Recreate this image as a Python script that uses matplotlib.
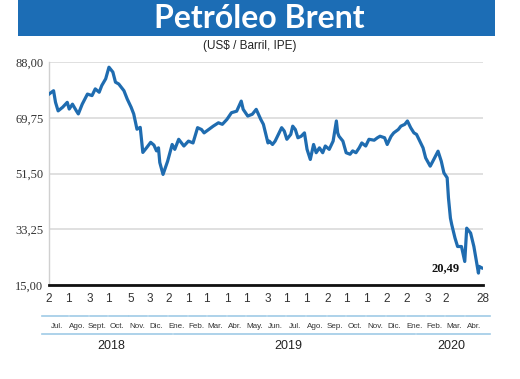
import matplotlib
matplotlib.use("Agg")
import matplotlib.pyplot as plt
import matplotlib.dates as mdates
from matplotlib.patches import Rectangle
import pandas as pd

# ---------------- data ----------------
dates = [
    "2018-07-02", "2018-07-09", "2018-07-12", "2018-07-16", "2018-07-23", "2018-07-30",
    "2018-08-02", "2018-08-07", "2018-08-13", "2018-08-16", "2018-08-22", "2018-08-30",
    "2018-09-06", "2018-09-11", "2018-09-17", "2018-09-21", "2018-09-27", "2018-10-02",
    "2018-10-08", "2018-10-12", "2018-10-17", "2018-10-25", "2018-10-30", "2018-11-05",
    "2018-11-09", "2018-11-14", "2018-11-19", "2018-11-23", "2018-11-29", "2018-12-05",
    "2018-12-10", "2018-12-14", "2018-12-17", "2018-12-19", "2018-12-24", "2018-12-31",
    "2019-01-07", "2019-01-11", "2019-01-17", "2019-01-25", "2019-02-01", "2019-02-08",
    "2019-02-15", "2019-02-21", "2019-02-25", "2019-03-04", "2019-03-11", "2019-03-19",
    "2019-03-25", "2019-04-01", "2019-04-08", "2019-04-16", "2019-04-23", "2019-04-26",
    "2019-05-03", "2019-05-10", "2019-05-16", "2019-05-23", "2019-05-27", "2019-06-03",
    "2019-06-05", "2019-06-10", "2019-06-14", "2019-06-19", "2019-06-24", "2019-06-28",
    "2019-07-02", "2019-07-08", "2019-07-11", "2019-07-15", "2019-07-19", "2019-07-24",
    "2019-07-29", "2019-08-02", "2019-08-07", "2019-08-12", "2019-08-16", "2019-08-21",
    "2019-08-26", "2019-08-30", "2019-09-05", "2019-09-11", "2019-09-16", "2019-09-18",
    "2019-09-20", "2019-09-26", "2019-10-01", "2019-10-07", "2019-10-11", "2019-10-16",
    "2019-10-21", "2019-10-25", "2019-10-31", "2019-11-05", "2019-11-13", "2019-11-18",
    "2019-11-22", "2019-11-29", "2019-12-03", "2019-12-09", "2019-12-13", "2019-12-20",
    "2019-12-24", "2019-12-30", "2020-01-03", "2020-01-08", "2020-01-13", "2020-01-17",
    "2020-01-22", "2020-01-27", "2020-01-31", "2020-02-07", "2020-02-11", "2020-02-19",
    "2020-02-24", "2020-02-28", "2020-03-04", "2020-03-06", "2020-03-09", "2020-03-11",
    "2020-03-16", "2020-03-20", "2020-03-26", "2020-03-31", "2020-04-03", "2020-04-09",
    "2020-04-14", "2020-04-21", "2020-04-22", "2020-04-27", "2020-04-28",
]
prices = [
    77.5, 78.6, 74.8, 72.0, 73.2, 74.8,
    72.6, 74.2, 72.0, 71.0, 74.2, 77.5,
    77.0, 79.2, 78.1, 80.3, 82.5, 86.3,
    84.7, 81.4, 80.8, 78.6, 75.9, 73.2,
    71.0, 66.0, 66.6, 58.4, 60.0, 61.7,
    60.8, 58.9, 59.9, 55.1, 51.2, 55.5,
    61.0, 59.4, 62.7, 60.5, 62.1, 61.5,
    66.5, 65.9, 64.8, 65.9, 67.0, 68.1,
    67.6, 69.2, 71.4, 71.9, 75.2, 72.5,
    70.3, 70.9, 72.5, 69.2, 67.6, 61.5,
    62.1, 61.0, 62.1, 64.3, 66.5, 65.4,
    62.7, 64.3, 67.0, 65.9, 63.2, 63.7,
    64.8, 59.4, 56.1, 61.0, 58.3, 59.9,
    58.3, 60.5, 59.4, 62.1, 68.7, 64.8,
    63.7, 62.1, 58.3, 57.8, 58.9, 58.3,
    59.9, 61.5, 60.5, 62.7, 62.4, 63.2,
    63.7, 63.2, 61.0, 63.7, 64.8, 65.9,
    67.0, 67.6, 68.7, 66.5, 64.8, 64.3,
    62.1, 59.9, 56.6, 53.9, 55.5, 58.8,
    55.5, 51.7, 50.1, 43.5, 36.9, 34.8,
    30.4, 27.6, 27.6, 22.7, 33.6, 32.0,
    27.6, 18.9, 21.1, 20.5, 20.49,
]

tick_dates = [
    "2018-07-02", "2018-08-01", "2018-09-03", "2018-10-01", "2018-11-05", "2018-12-03",
    "2019-01-02", "2019-02-01", "2019-03-01", "2019-04-01", "2019-05-01", "2019-06-03",
    "2019-07-01", "2019-08-01", "2019-09-02", "2019-10-01", "2019-11-01", "2019-12-02",
    "2020-01-02", "2020-02-03", "2020-03-02", "2020-04-28",
]
months = ["Jul.", "Ago.", "Sept.", "Oct.", "Nov.", "Dic.",
          "Ene.", "Feb.", "Mar.", "Abr.", "May.", "Jun.", "Jul.", "Ago.", "Sep.",
          "Oct.", "Nov.", "Dic.", "Ene.", "Feb.", "Mar.", "Abr."]
month_starts = pd.date_range("2018-07-01", "2020-04-01", freq="MS")
years = ["2018", "2019", "2020"]
y_ticks = [15.00, 33.25, 51.50, 69.75, 88.00]

title = "Petróleo Brent"
subtitle = "(US$ / Barril, IPE)"

# ---------------- style ----------------
BLUE_BAR = "#1c6db5"
LINE = "#1f6cb0"
LIGHT = "#9fcbe6"
NARROW = ["Liberation Sans", "DejaVu Sans"]

d = pd.to_datetime(dates)
td = pd.to_datetime(tick_dates)

fig = plt.figure(figsize=(5.2, 3.79), dpi=100)
fig.patch.set_facecolor("white")

# title bar
fig.patches.append(Rectangle((18 / 520, 1 - 36 / 379), (495 - 18) / 520, 36 / 379,
                             transform=fig.transFigure, facecolor=BLUE_BAR,
                             edgecolor="none", zorder=0))
fig.text(259 / 520, 1 - 18 / 379, title, color="white", fontsize=23,
         fontweight="bold", family=["Lato", "DejaVu Sans"], ha="center", va="center")
fig.text(250 / 520, 1 - 46 / 379, subtitle, color="#222222", fontsize=8.5,
         family=NARROW, ha="center", va="center")

ax = fig.add_axes([49 / 520, 1 - 285 / 379, (483 - 49) / 520, (285 - 62) / 379])
ax.plot(d, prices, color=LINE, lw=2.3, solid_joinstyle="round", zorder=3)

x0 = pd.Timestamp("2018-07-02")
x1 = pd.Timestamp("2020-04-28")
ax.set_xlim(x0, x1)
ax.set_ylim(15, 88)

ax.set_yticks(y_ticks)
ax.set_yticklabels([f"{v:.2f}".replace(".", ",") for v in y_ticks],
                   family=["Liberation Serif", "DejaVu Serif"], fontsize=9, color="#333333")
ax.grid(axis="y", color="#dadada", lw=1.2)
ax.set_axisbelow(True)
ax.tick_params(axis="y", length=0, pad=4)

ax.set_xticks(td)
ax.set_xticklabels([str(t.day) for t in td], family=NARROW, fontsize=8.5, color="#333333")
ax.tick_params(axis="x", length=0, pad=6)

for s in ["top", "right"]:
    ax.spines[s].set_visible(False)
ax.spines["left"].set_color("#d0d0d0")
ax.spines["left"].set_linewidth(1.0)
ax.spines["bottom"].set_color("#111111")
ax.spines["bottom"].set_linewidth(2.0)
ax.spines["bottom"].set_zorder(4)

trans = ax.get_xaxis_transform()
ppx = 1 / 223.0  # axes fraction per pixel (vertical)
y_mseg = -(316 - 285) * ppx
y_mlab = -(326 - 285) * ppx
y_yseg = -(334 - 285) * ppx
y_ylab = -(346 - 285) * ppx

gap = pd.Timedelta(days=1.5)
seg_edges = list(month_starts) + [pd.Timestamp("2020-05-01")]
for i in range(len(months)):
    a = seg_edges[i] + gap
    b = seg_edges[i + 1] - gap
    if i == 0:
        a = pd.Timestamp("2018-06-21")
    if i == len(months) - 1:
        b = pd.Timestamp("2020-05-08")
    ax.plot([a, b], [y_mseg, y_mseg], transform=trans, color=LIGHT, lw=1.2,
            clip_on=False)
    mid = seg_edges[i] + pd.Timedelta(days=13)
    ax.text(mid, y_mlab, months[i], transform=trans, ha="center", va="center",
            family=NARROW, fontsize=5.8, color="#333333", clip_on=False)

year_spans = [(pd.Timestamp("2018-06-21"), pd.Timestamp("2019-01-06")),
              (pd.Timestamp("2019-01-10"), pd.Timestamp("2020-01-14")),
              (pd.Timestamp("2020-01-18"), pd.Timestamp("2020-05-08"))]
year_centers = [pd.Timestamp("2018-10-06"), pd.Timestamp("2019-07-04"),
                pd.Timestamp("2020-03-10")]
for (a, b), c, yl in zip(year_spans, year_centers, years):
    ax.plot([a, b], [y_yseg, y_yseg], transform=trans, color=LIGHT, lw=1.2,
            clip_on=False)
    ax.text(c, y_ylab, yl, transform=trans, ha="center", va="center",
            family=NARROW, fontsize=9, color="#222222", clip_on=False)

ax.annotate(f"{prices[-1]:.2f}".replace(".", ","), xy=(d[-1], prices[-1]),
            xytext=(-17, 0), textcoords="offset points", ha="right", va="center",
            family=["Liberation Serif", "DejaVu Serif"], fontweight="bold",
            fontsize=9, color="#111111")

fig.savefig("out.png", dpi=100, facecolor="white")
